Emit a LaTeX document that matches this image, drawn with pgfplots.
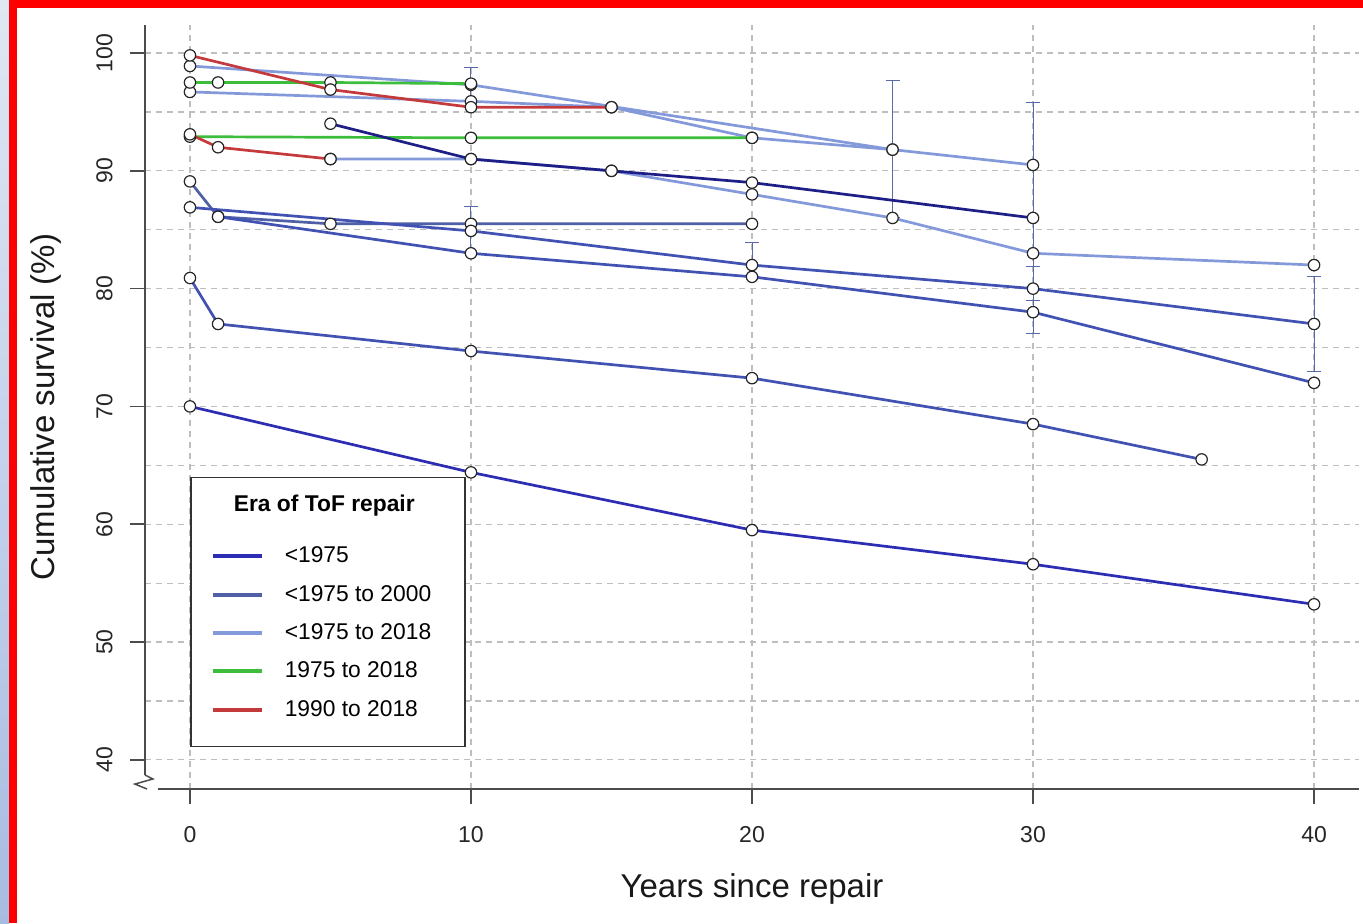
\documentclass[border=0pt]{standalone}
\usepackage{fontspec}
\setmainfont{Liberation Sans}
\usepackage{pgfplots}
\pgfplotsset{compat=1.18}
\definecolor{cA}{RGB}{45,45,180}
\definecolor{cNavy}{RGB}{30,30,135}
\definecolor{cB}{RGB}{80,96,165}
\definecolor{cB2}{RGB}{66,82,178}
\definecolor{cC}{RGB}{132,153,218}
\definecolor{cG}{RGB}{60,190,60}
\definecolor{cR}{RGB}{196,58,60}
\definecolor{errc}{RGB}{90,105,170}
\definecolor{gridc}{RGB}{190,190,190}
\definecolor{stripT}{RGB}{224,231,243}
\definecolor{stripB}{RGB}{168,188,226}
\newcommand{\lgd}[1]{\makebox[80pt][l]{\rule[-2.5pt]{0pt}{8.5pt}#1}}
\pgfplotsset{ser/.style={line width=1.35pt, mark=*, mark size=2.85pt,
  mark options={fill=white, draw=black!85, line width=0.6pt, solid}, forget plot}}
\begin{document}
\begin{tikzpicture}
\useasboundingbox (0,0) rectangle (681.5pt,461.5pt);
\shade[top color=stripT, bottom color=stripB] (0pt,0pt) rectangle (4.5pt,461.5pt);
\fill[red] (4.5pt,0pt) rectangle (8.5pt,461.5pt);
\fill[red] (4.5pt,457.5pt) rectangle (681.5pt,461.5pt);
\begin{axis}[
  at={(72.5pt,67pt)}, anchor=south west,
  scale only axis, width=607pt, height=382pt,
  xmin=-1.6, xmax=41.6, ymin=37.52, ymax=102.38,
  clip=false,
  axis line style={draw=none},
  xtick={0,10,20,30,40}, ytick={40,50,60,70,80,90,100},
  minor ytick={45,55,65,75,85,95},
  xtick pos=left, ytick pos=left,
  tick align=outside,
  major tick length=7.5pt, minor tick length=0pt,
  tick style={draw=black!70, line width=0.75pt},
  grid=both,
  major grid style={draw=gridc, line width=0.6pt, dash pattern=on 3pt off 2.5pt},
  minor grid style={draw=gridc, line width=0.6pt, dash pattern=on 3pt off 2.5pt},
  /pgf/number format/assume math mode=true,
  ticklabel style={font=\fontsize{11.5}{13}\selectfont, text=black!85},
  xticklabel style={anchor=north, inner xsep=0pt, inner ysep=11pt},
  yticklabel style={rotate=90, anchor=south, inner xsep=0pt, inner ysep=8.5pt},
  xlabel={Years since repair}, ylabel={Cumulative survival (\%)},
  every axis x label/.style={at={(axis description cs:0.5,-0.131)}, anchor=center,
    font=\fontsize{16.5}{19}\selectfont, text=black!90},
  every axis y label/.style={at={(axis description cs:-0.0815,0.5)}, anchor=center,
    rotate=90, font=\fontsize{16.5}{19}\selectfont, text=black!90},
  legend style={at={(axis description cs:0.0371,0.4084)}, anchor=north west,
    draw=black!80, line width=0.75pt, fill=white, inner xsep=10pt, inner ysep=13.5pt,
    column sep=10.5pt, row sep=9.75pt, font=\fontsize{11.4}{13}\selectfont,
    nodes={inner sep=0pt}},
  legend cell align=left,
  legend image code/.code={\draw[#1, line width=2pt] (0pt,0pt) -- (24.5pt,0pt);},
]
% error bars
\addplot[forget plot, only marks, mark size=0pt, mark options={draw=none, fill=none},
  error bars/.cd, y dir=both, y explicit,
  error bar style={draw=errc, line width=0.5pt, solid},
  error mark options={rotate=90, draw=errc, mark size=3.5pt, line width=0.5pt}]
coordinates {
  (10,97.3) += (0,1.45) -= (0,1.4)
  (10,85.5) += (0,1.5) -= (0,2.5)
  (20,82.0) += (0,1.9) -= (0,1.0)
  (25,91.8) += (0,5.85) -= (0,5.8)
  (30,90.5) += (0,5.3) -= (0,14.3)
  (30,81.9) +- (0,0.01)
  (30,79.0) +- (0,0.01)
  (40,77.0) +- (0,4.0)
};
% <1975 to 2018 (light)
\addplot[ser, color=cC] coordinates {(0,98.9) (10,97.3) (25,91.8)};
\addplot[ser, color=cC] coordinates {(0,96.7) (10,95.9) (15,95.4) (20,92.8) (25,91.8) (30,90.5)};
\addplot[ser, color=cC] coordinates {(5,91.0) (10,91.0) (15,90.0) (20,88.0) (25,86.0) (30,83.0) (40,82.0)};
% 1975 to 2018 (green)
\addplot[ser, color=cG] coordinates {(0,97.5) (1,97.5) (5,97.5) (10,97.4)};
\addplot[ser, color=cG] coordinates {(0,92.9) (10,92.8) (20,92.8)};
% 1990 to 2018 (red)
\addplot[ser, color=cR] coordinates {(0,99.8) (5,96.9) (10,95.4) (15,95.4)};
\addplot[ser, color=cR] coordinates {(0,93.1) (1,92.0) (5,91.0)};
% <1975 to 2000
\addplot[ser, color=cB] coordinates {(0,89.1) (1,86.1) (5,85.5) (10,85.5) (20,85.5)};
\addplot[ser, color=cB2] coordinates {(0,86.9) (10,84.9) (20,82.0) (30,80.0) (40,77.0)};
\addplot[ser, color=cB2] coordinates {(1,86.1) (10,83.0) (20,81.0) (30,78.0) (40,72.0)};
\addplot[ser, color=cB2] coordinates {(0,80.9) (1,77.0) (10,74.7) (20,72.4) (30,68.5) (36,65.5)};
% <1975
\addplot[ser, color=cA] coordinates {(0,70.0) (10,64.4) (20,59.5) (30,56.6) (40,53.2)};
\addplot[ser, color=cNavy] coordinates {(5,94.0) (10,91.0) (15,90.0) (20,89.0) (30,86.0)};
% legend
\addlegendimage{empty legend}
\addlegendentry{\makebox[80pt][c]{\hspace*{-40.5pt}\raisebox{6.5pt}[\dimexpr\height+1.5pt\relax]{\textbf{Era of ToF repair}}}}
\addlegendimage{color=cA}
\addlegendentry{\lgd{<1975}}
\addlegendimage{color=cB}
\addlegendentry{\lgd{<1975 to 2000}}
\addlegendimage{color=cC}
\addlegendentry{\lgd{<1975 to 2018}}
\addlegendimage{color=cG}
\addlegendentry{\lgd{1975 to 2018}}
\addlegendimage{color=cR}
\addlegendentry{\lgd{1990 to 2018}}
% axis lines and break
\draw[black!70, line width=0.75pt] (axis cs:-1.6,38.71) -- (axis cs:-1.6,102.38);
\draw[black!70, line width=0.75pt] (axis cs:-1.15,37.52) -- (axis cs:41.6,37.52);
\draw[black!70, line width=0.75pt] (axis cs:-1.6,38.71) -- (axis cs:-1.32,38.37) -- (axis cs:-1.96,37.94) -- (axis cs:-1.53,37.52);
\end{axis}
\end{tikzpicture}
\end{document}
